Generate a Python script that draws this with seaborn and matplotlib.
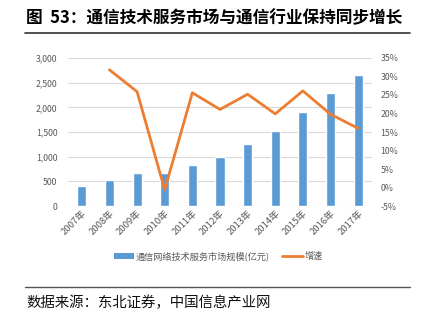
import numpy as np
import pandas as pd
import matplotlib
matplotlib.use("Agg")
import matplotlib.pyplot as plt
import matplotlib.ticker as mticker
from matplotlib.patches import Patch
from matplotlib.lines import Line2D
import seaborn as sns

years = ["2007年", "2008年", "2009年", "2010年", "2011年", "2012年",
         "2013年", "2014年", "2015年", "2016年", "2017年"]
market_size = [405, 530, 665, 665, 835, 1000, 1255, 1515, 1905, 2290, 2655]
growth = [None, 31.8, 25.9, -0.6, 25.6, 21.1, 25.2, 19.9, 26.1, 19.8, 16.0]

bar_label = "通信网络技术服务市场规模(亿元)"
line_label = "增速"
title_text = "图  53：通信技术服务市场与通信行业保持同步增长"
source_text = "数据来源：东北证券，中国信息产业网"

BLUE = "#5B9BD5"
ORANGE = "#ED7D31"
GRID = "#D9D9D9"
TICK = "#595959"

sns.set_theme(style="white")
plt.rcParams["font.family"] = ["Noto Sans CJK SC", "DejaVu Sans"]

df = pd.DataFrame({"year": years, "size": market_size, "growth": growth})

fig = plt.figure(figsize=(4.21, 3.22), dpi=100)
ax = fig.add_axes([0.1615, 0.360, 0.722, 0.460])

sns.barplot(data=df, x="year", y="size", color=BLUE, width=0.33,
            saturation=1, ax=ax)
ax.set_ylim(0, 3000)
ax.yaxis.set_major_locator(mticker.MultipleLocator(500))
ax.yaxis.set_major_formatter(mticker.FuncFormatter(lambda v, p: f"{int(v):,}"))
ax.grid(axis="y", color=GRID, linewidth=0.8)
ax.set_axisbelow(True)
for s in ax.spines.values():
    s.set_visible(False)
ax.set_xlabel("")
ax.set_ylabel("")
ax.tick_params(axis="y", colors=TICK, labelsize=6.3, length=0, pad=7.5)
ax.tick_params(axis="x", colors=TICK, labelsize=6.8, length=0, pad=2)
for lab in ax.get_xticklabels():
    lab.set_rotation(45)
    lab.set_ha("right")
    lab.set_rotation_mode("anchor")

ax2 = ax.twinx()
gdf = df.dropna(subset=["growth"])
sns.lineplot(x=gdf.index.to_numpy(), y=gdf["growth"].to_numpy(), color=ORANGE,
             linewidth=2, ax=ax2)
ax2.set_ylim(-5, 35)
ax2.yaxis.set_major_locator(mticker.MultipleLocator(5))
ax2.yaxis.set_major_formatter(mticker.FuncFormatter(lambda v, p: f"{int(round(v))}%"))
for s in ax2.spines.values():
    s.set_visible(False)
ax2.set_ylabel("")
ax2.tick_params(axis="y", colors=TICK, labelsize=6.3, length=0, pad=6)
ax.set_xlim(-0.5, len(years) - 0.5)

handles = [Patch(facecolor=BLUE, edgecolor="none"),
           Line2D([0], [0], color=ORANGE, linewidth=2)]
fig.legend(handles, [bar_label, line_label], loc="center",
           bbox_to_anchor=(0.518, 0.205), ncol=2, frameon=False,
           fontsize=6.6, labelcolor=TICK, handlelength=2.2, handleheight=0.6,
           columnspacing=1.4, handletextpad=0.2)

fig.text(0.062, 0.944, title_text, fontsize=12, fontweight="bold",
         ha="left", va="center", color="black")
fig.add_artist(Line2D([0.06, 0.975], [0.897, 0.897], color="#333333",
                      linewidth=1.2, transform=fig.transFigure))
fig.add_artist(Line2D([0.06, 0.975], [0.109, 0.109], color="#555555",
                      linewidth=1.0, transform=fig.transFigure))
fig.text(0.062, 0.06, source_text, fontsize=10.4, ha="left", va="center",
         color="#111111")

fig.savefig("out.png", dpi=100, facecolor="white")
